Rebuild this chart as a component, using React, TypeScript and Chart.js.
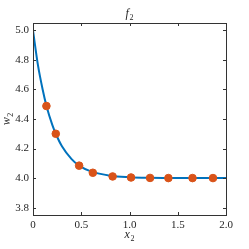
import React, { useEffect, useRef } from "react";
import { Chart, registerables } from "chart.js";

Chart.register(...registerables);

const curveX = [0, 0.05, 0.1, 0.139, 0.2, 0.236, 0.3, 0.4, 0.478, 0.6, 0.8, 1.0, 1.2, 1.5, 2.0];
const curveY = [5.0, 4.77, 4.6, 4.49, 4.36, 4.3, 4.215, 4.128, 4.084, 4.045, 4.016, 4.006, 4.002, 4.0, 4.0];
const sampleX = [0.139, 0.236, 0.478, 0.62, 0.825, 1.016, 1.213, 1.403, 1.653, 1.865];
const sampleY = [4.488, 4.3, 4.084, 4.036, 4.011, 4.004, 4.001, 4.0, 4.0, 4.0];
const xTicks = [0, 0.5, 1.0, 1.5, 2.0];
const yTicks = [3.8, 4.0, 4.2, 4.4, 4.6, 4.8, 5.0];
const titleBase = "f";
const xLabelBase = "x";
const yLabelBase = "w";
const subscript = "2";

const FONT = "'Liberation Serif', 'DejaVu Serif', serif";

function drawSub(ctx: any, base: string, sub: string, cx: number, cy: number) {
  ctx.font = "italic 12px " + FONT;
  const wb = ctx.measureText(base).width;
  ctx.font = "8px " + FONT;
  const ws = ctx.measureText(sub).width;
  const total = wb + ws + 0.5;
  const x0 = cx - total / 2;
  ctx.textAlign = "left";
  ctx.textBaseline = "alphabetic";
  ctx.font = "italic 12px " + FONT;
  ctx.fillText(base, x0, cy + 3);
  ctx.font = "8px " + FONT;
  ctx.fillText(sub, x0 + wb + 0.5, cy + 5.5);
}

const framePlugin = {
  id: "frame",
  afterDraw(chart: any) {
    const { ctx, chartArea } = chart;
    const xs = chart.scales.x;
    const ys = chart.scales.y;
    ctx.save();
    ctx.strokeStyle = "#333333";
    ctx.lineWidth = 1;
    ctx.strokeRect(
      Math.round(chartArea.left) + 0.5,
      Math.round(chartArea.top) + 0.5,
      Math.round(chartArea.right - chartArea.left),
      Math.round(chartArea.bottom - chartArea.top)
    );
    const tl = 3;
    ctx.beginPath();
    xTicks.forEach((v) => {
      const px = Math.round(xs.getPixelForValue(v)) + 0.5;
      ctx.moveTo(px, chartArea.bottom);
      ctx.lineTo(px, chartArea.bottom - tl);
      ctx.moveTo(px, chartArea.top);
      ctx.lineTo(px, chartArea.top + tl);
    });
    yTicks.forEach((v) => {
      const py = Math.round(ys.getPixelForValue(v)) + 0.5;
      ctx.moveTo(chartArea.left, py);
      ctx.lineTo(chartArea.left + tl, py);
      ctx.moveTo(chartArea.right, py);
      ctx.lineTo(chartArea.right - tl, py);
    });
    ctx.stroke();

    ctx.fillStyle = "#262626";
    const cx = (chartArea.left + chartArea.right) / 2;
    drawSub(ctx, titleBase, subscript, cx, 14);
    drawSub(ctx, xLabelBase, subscript, cx, 235);
    ctx.save();
    ctx.translate(8, (chartArea.top + chartArea.bottom) / 2);
    ctx.rotate(-Math.PI / 2);
    drawSub(ctx, yLabelBase, subscript, 0, -1);
    ctx.restore();
    ctx.restore();
  },
};

export default function App() {
  const ref = useRef<HTMLCanvasElement | null>(null);
  useEffect(() => {
    document.body.style.margin = "0";
    const canvas = ref.current;
    if (!canvas) return;
    const chart = new Chart(canvas, {
      type: "scatter",
      data: {
        datasets: [
          {
            data: sampleX.map((x, i) => ({ x, y: sampleY[i] })),
            backgroundColor: "#D95319",
            borderColor: "#D95319",
            pointRadius: 3.8,
            pointHoverRadius: 3.8,
            showLine: false,
          },
          {
            data: curveX.map((x, i) => ({ x, y: curveY[i] })),
            borderColor: "#0072BD",
            borderWidth: 2,
            pointRadius: 0,
            showLine: true,
            cubicInterpolationMode: "monotone",
          },
        ],
      },
      options: {
        responsive: false,
        animation: false,
        events: [],
        layout: { padding: { top: 23, right: 23, left: 0, bottom: 0 } },
        plugins: { legend: { display: false }, tooltip: { enabled: false }, title: { display: false } },
        scales: {
          x: {
            type: "linear",
            min: 0,
            max: 2,
            afterBuildTicks: (s: any) => {
              s.ticks = xTicks.map((v) => ({ value: v }));
            },
            afterFit: (s: any) => {
              s.height = 34;
            },
            grid: { display: false, drawTicks: false },
            border: { display: false },
            ticks: {
              padding: 4,
              color: "#262626",
              font: { family: FONT, size: 11 },
              maxRotation: 0,
              callback: (v: any) => (v === 0 ? "0" : Number(v).toFixed(1)),
            },
          },
          y: {
            type: "linear",
            min: 3.75,
            max: 5.05,
            afterBuildTicks: (s: any) => {
              s.ticks = yTicks.map((v) => ({ value: v }));
            },
            afterFit: (s: any) => {
              s.width = 33;
            },
            grid: { display: false, drawTicks: false },
            border: { display: false },
            ticks: {
              padding: 4,
              color: "#262626",
              font: { family: FONT, size: 11 },
              callback: (v: any) => Number(v).toFixed(1),
            },
          },
        },
      },
      plugins: [framePlugin],
    } as any);
    return () => chart.destroy();
  }, []);
  return (
    <div style={{ width: 249, height: 249 }}>
      <canvas ref={ref} width={249} height={249} style={{ display: "block" }} />
    </div>
  );
}
